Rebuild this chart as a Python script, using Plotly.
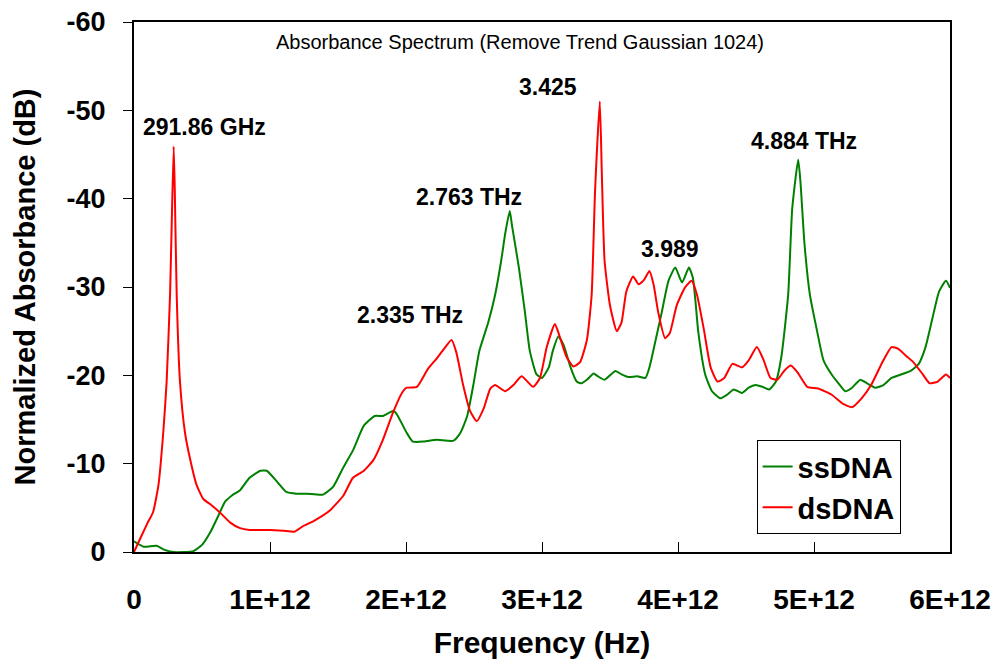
import numpy as np
import plotly.graph_objects as go

# ---- data (frequency in THz, absorbance in dB) ----
ss_freq_thz = [0.0, 0.07, 0.167, 0.216, 0.29, 0.436, 0.50, 0.56, 0.62, 0.67, 0.72, 0.78, 0.85, 0.93, 0.976,
               1.05, 1.12, 1.196, 1.27, 1.39, 1.465, 1.54, 1.61, 1.69, 1.77, 1.83, 1.91, 1.94, 2.005, 2.05,
               2.13, 2.225, 2.35, 2.40, 2.45, 2.495, 2.54, 2.605, 2.655, 2.70, 2.73, 2.763, 2.78, 2.83, 2.875,
               2.91, 2.96, 3.0, 3.05, 3.08, 3.12, 3.16, 3.21, 3.255, 3.29, 3.33, 3.38, 3.41, 3.46, 3.54,
               3.585, 3.635, 3.70, 3.76, 3.79, 3.83, 3.88, 3.93, 3.98, 4.03, 4.08, 4.11, 4.15, 4.20, 4.25,
               4.31, 4.36, 4.41, 4.47, 4.52, 4.57, 4.62, 4.67, 4.72, 4.76, 4.81, 4.84, 4.884, 4.90, 4.93,
               4.97, 5.02, 5.07, 5.13, 5.18, 5.23, 5.28, 5.34, 5.39, 5.45, 5.51, 5.57, 5.64, 5.71, 5.77,
               5.82, 5.87, 5.92, 5.97, 6.0]
ss_abs_db = [-1.2, -0.6, -0.7, -0.3, 0.0, -0.1, -0.8, -2.2, -4.1, -5.7, -6.4, -7.0, -8.4, -9.2, -9.2,
             -8.0, -6.8, -6.6, -6.6, -6.5, -7.4, -9.6, -11.5, -14.3, -15.4, -15.4, -16.0, -15.4, -13.5, -12.5,
             -12.5, -12.7, -12.6, -13.5, -15.4, -18.9, -22.8, -26.0, -29.1, -33.0, -36.1, -38.6, -36.9, -32.2, -27.1,
             -22.8, -20.1, -19.7, -20.9, -22.8, -24.4, -23.4, -20.9, -19.3, -19.1, -19.5, -20.2, -19.9, -19.5, -20.5,
             -20.1, -19.8, -19.9, -19.7, -20.9, -23.6, -27.1, -30.7, -32.2, -30.5, -32.2, -31.0, -24.8, -20.1, -18.2,
             -17.4, -17.8, -18.4, -18.0, -18.6, -18.9, -18.7, -18.4, -19.3, -22.1, -29.1, -38.9, -44.4, -42.0, -34.9,
             -29.1, -25.2, -21.7, -20.1, -19.1, -18.2, -18.6, -19.5, -19.1, -18.6, -18.9, -19.7, -20.1, -20.5, -21.3,
             -23.2, -26.4, -29.5, -30.7, -29.9]

ds_freq_thz = [0.0, 0.057, 0.10, 0.14, 0.18, 0.215, 0.24, 0.265, 0.277, 0.2919, 0.30, 0.314, 0.338, 0.375, 0.41,
               0.46, 0.51, 0.57, 0.63, 0.71, 0.78, 0.85, 1.0, 1.1, 1.18, 1.24, 1.32, 1.44, 1.54, 1.61,
               1.69, 1.76, 1.83, 1.905, 1.97, 2.005, 2.08, 2.16, 2.225, 2.27, 2.335, 2.37, 2.42, 2.47, 2.52,
               2.57, 2.62, 2.655, 2.73, 2.79, 2.85, 2.935, 2.985, 3.035, 3.095, 3.13, 3.18, 3.23, 3.28, 3.33,
               3.365, 3.39, 3.425, 3.44, 3.46, 3.50, 3.55, 3.585, 3.62, 3.67, 3.71, 3.75, 3.79, 3.82, 3.855,
               3.905, 3.94, 3.99, 4.05, 4.10, 4.14, 4.19, 4.24, 4.29, 4.34, 4.40, 4.47, 4.52, 4.58, 4.63,
               4.68, 4.73, 4.78, 4.83, 4.88, 4.95, 5.03, 5.13, 5.21, 5.28, 5.35, 5.42, 5.51, 5.57, 5.62,
               5.67, 5.73, 5.80, 5.85, 5.91, 5.97, 6.0]
ds_abs_db = [0.0, -1.9, -3.3, -4.5, -7.6, -13.5, -19.3, -29.1, -36.9, -45.9, -40.8, -29.1, -19.3, -13.5, -10.7,
             -7.6, -6.0, -5.3, -4.5, -3.3, -2.7, -2.5, -2.5, -2.4, -2.3, -2.9, -3.5, -4.7, -6.4, -8.4,
             -9.2, -10.4, -12.7, -15.8, -18.0, -18.6, -18.7, -20.7, -21.9, -22.8, -24.0, -22.6, -18.9, -16.0, -14.8,
             -16.2, -18.5, -18.9, -18.2, -18.9, -19.9, -18.7, -19.7, -23.2, -25.8, -24.4, -22.1, -21.0, -21.5, -24.0,
             -29.1, -40.8, -51.0, -42.8, -33.0, -27.9, -25.0, -26.0, -29.5, -31.2, -30.3, -30.8, -31.8, -30.3, -27.1,
             -24.2, -24.8, -27.9, -29.9, -30.7, -29.1, -25.2, -20.9, -19.3, -19.7, -21.3, -20.9, -21.7, -23.2, -21.7,
             -19.7, -19.5, -20.5, -21.1, -20.3, -18.7, -18.5, -17.8, -16.8, -16.4, -17.4, -18.9, -21.7, -23.2, -23.0,
             -22.3, -21.5, -20.1, -19.1, -19.3, -20.1, -19.7]

x_tick_vals = [0, 1e12, 2e12, 3e12, 4e12, 5e12, 6e12]
x_tick_text = ["0", "1E+12", "2E+12", "3E+12", "4E+12", "5E+12", "6E+12"]
y_tick_vals = [0, -10, -20, -30, -40, -50, -60]
y_tick_text = ["0", "-10", "-20", "-30", "-40", "-50", "-60"]

# peak labels: (text, x THz, y dB)
peak_text = ["291.86 GHz", "2.335 THz", "2.763 THz", "3.425", "3.989", "4.884 THz"]
peak_x_thz = [0.52, 2.03, 2.46, 3.045, 3.94, 4.93]
peak_y_db = [-48.1, -26.8, -40.2, -52.6, -34.3, -46.5]

assert len(ss_freq_thz) == len(ss_abs_db), (len(ss_freq_thz), len(ss_abs_db))
assert len(ds_freq_thz) == len(ds_abs_db), (len(ds_freq_thz), len(ds_abs_db))

FONT = "Liberation Sans, Arial, sans-serif"

fig = go.Figure()
fig.add_trace(go.Scatter(x=np.array(ss_freq_thz) * 1e12, y=ss_abs_db, mode="lines", name="<b>ssDNA</b>",
                         line=dict(color="#008000", width=2, shape="spline", smoothing=0.5)))
fig.add_trace(go.Scatter(x=np.array(ds_freq_thz) * 1e12, y=ds_abs_db, mode="lines", name="<b>dsDNA</b>",
                         line=dict(color="#FF0000", width=2, shape="spline", smoothing=0.5)))

for t, px, py in zip(peak_text, peak_x_thz, peak_y_db):
    fig.add_annotation(x=px * 1e12, y=py, xref="x", yref="y", text="<b>" + t + "</b>", showarrow=False,
                       font=dict(family=FONT, size=23, color="black"), xanchor="center", yanchor="middle")

fig.add_annotation(x=0.473, y=0.962, xref="paper", yref="paper",
                   text="Absorbance Spectrum (Remove Trend Gaussian 1024)", showarrow=False,
                   font=dict(family=FONT, size=20, color="black"), xanchor="center", yanchor="middle")

fig.update_layout(
    width=995, height=664,
    margin=dict(l=134, r=45, t=22, b=112, autoexpand=False),
    paper_bgcolor="white", plot_bgcolor="white",
    font=dict(family=FONT, color="black"),
    showlegend=True,
    legend=dict(x=0.763, y=0.211, xanchor="left", yanchor="top", bgcolor="white",
                bordercolor="black", borderwidth=1, font=dict(family=FONT, size=29, color="black"),
                tracegroupgap=0),
)
fig.update_xaxes(range=[0, 6e12], tickmode="array", tickvals=x_tick_vals, ticktext=x_tick_text,
                 ticks="inside", ticklen=10, tickwidth=1, tickcolor="black", automargin=False,
                 showline=True, linewidth=2, linecolor="black", mirror=True, showgrid=False, zeroline=False,
                 tickfont=dict(family=FONT, size=28, color="black", weight="bold"), ticklabelstandoff=21,
                 title=dict(text="<b>Frequency (Hz)</b>", font=dict(family=FONT, size=30, color="black"), standoff=18))
fig.update_yaxes(range=[0, -60], tickmode="array", tickvals=y_tick_vals, ticktext=y_tick_text,
                 ticks="outside", ticklen=9, tickwidth=1, tickcolor="black", automargin=False,
                 showline=True, linewidth=2, linecolor="black", mirror=True, showgrid=False, zeroline=False,
                 tickfont=dict(family=FONT, size=27, color="black", weight="bold"), ticklabelstandoff=12,
                 title=dict(text="<b>Normalized Absorbance (dB)</b>", font=dict(family=FONT, size=29, color="black"),
                            standoff=22))

# remove the default page margin so the 995x664 figure fills the window exactly
fig.write_html("out.html", config={"displayModeBar": False},
               post_script="document.body.style.margin='0';document.body.style.overflow='hidden';")
